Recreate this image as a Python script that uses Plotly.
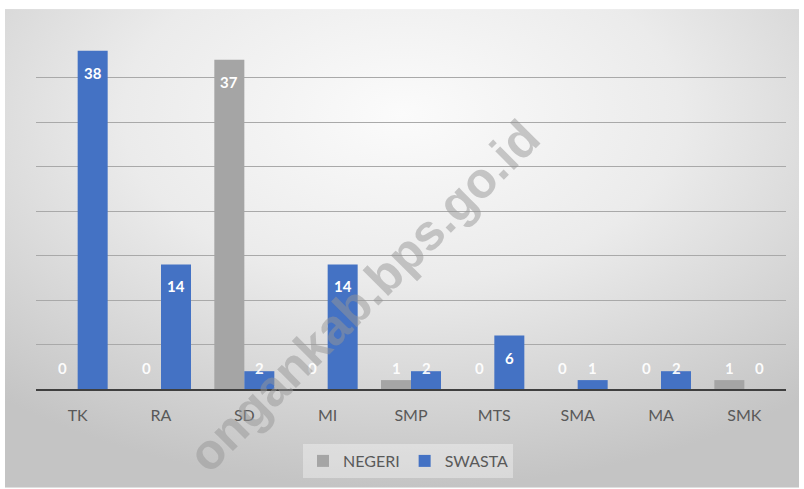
import base64
import plotly.graph_objects as go

categories = ["TK", "RA", "SD", "MI", "SMP", "MTS", "SMA", "MA", "SMK"]
negeri = [0, 0, 37, 0, 1, 0, 0, 0, 1]
swasta = [38, 14, 2, 14, 2, 6, 1, 2, 0]
series_names = ["NEGERI", "SWASTA"]
watermark = "ongankab.bps.go.id"

W, H = 804, 489
L, R, T, B = 36, 18, 33, 99
PW = W - L - R
PH = H - T - B

def px_x(px):
    return (px - L) / PW

def px_y(py):
    return (H - B - py) / PH

svg = (
    '<svg xmlns="http://www.w3.org/2000/svg" width="800" height="480" preserveAspectRatio="none">'
    '<defs><radialGradient id="g" cx="0.5" cy="0.22" r="0.78">'
    '<stop offset="0" stop-color="#fbfbfb"/>'
    '<stop offset="0.45" stop-color="#ebebeb"/>'
    '<stop offset="1" stop-color="#c4c4c4"/>'
    '</radialGradient></defs>'
    '<rect x="0" y="0" width="800" height="480" fill="url(#g)"/></svg>'
)
svg_uri = "data:image/svg+xml;base64," + base64.b64encode(svg.encode()).decode()

fig = go.Figure()
fig.add_trace(go.Bar(x=categories, y=negeri, name=series_names[0],
                     marker=dict(color="#A5A5A5", line=dict(width=0))))
fig.add_trace(go.Bar(x=categories, y=swasta, name=series_names[1],
                     marker=dict(color="#4472C4", line=dict(width=0))))

annotations = []
for vals, shift in ((negeri, -15), (swasta, 15)):
    for cat, v in zip(categories, vals):
        if v >= 5:
            annotations.append(dict(x=cat, y=v, xref="x", yref="y", xshift=shift, yshift=-22,
                                    text=f"<b>{v}</b>", showarrow=False,
                                    font=dict(family="Lato", size=15, color="white")))
        else:
            annotations.append(dict(x=cat, y=0, xref="x", yref="y", xshift=shift, yshift=21,
                                    text=f"<b>{v}</b>", showarrow=False,
                                    font=dict(family="Lato", size=15, color="rgba(255,255,255,0.95)")))

annotations.append(dict(x=px_x(364), y=px_y(297), xref="paper", yref="paper",
                        xanchor="center", yanchor="middle",
                        text=f"<b>{watermark}</b>", showarrow=False, textangle=-45,
                        font=dict(family="Liberation Sans", size=50, color="rgba(150,150,150,0.5)")))

fig.update_layout(
    width=W, height=H,
    margin=dict(l=L, r=R, t=T, b=B),
    paper_bgcolor="white",
    plot_bgcolor="rgba(0,0,0,0)",
    barmode="group",
    bargap=0.28,
    bargroupgap=0,
    font=dict(family="Lato", size=16, color="#595959"),
    showlegend=True,
    legend=dict(orientation="h", x=px_x(408), y=px_y(461), xanchor="center", yanchor="middle",
                bgcolor="rgba(255,255,255,0.35)", font=dict(family="Lato", size=16, color="#595959"),
                itemwidth=30, traceorder="normal"),
    xaxis=dict(showline=True, linecolor="#3f3f3f", linewidth=2, ticks="", showgrid=False,
               ticklabelstandoff=11,
               tickfont=dict(family="Lato", size=16, color="#595959")),
    yaxis=dict(range=[0, 40], dtick=5, showgrid=True, gridcolor="#a9a9a9", gridwidth=1,
               showticklabels=False, zeroline=False, showline=False),
    images=[dict(source=svg_uri, xref="paper", yref="paper", x=px_x(5), y=px_y(9),
                 sizex=(799 - 5) / PW, sizey=(489 - 9) / PH, xanchor="left", yanchor="top",
                 sizing="stretch", layer="below")],
    annotations=annotations,
)

fig.write_html("out.html", config={"displayModeBar": False},
               post_script="document.body.style.margin='0';document.body.style.overflow='hidden';")
